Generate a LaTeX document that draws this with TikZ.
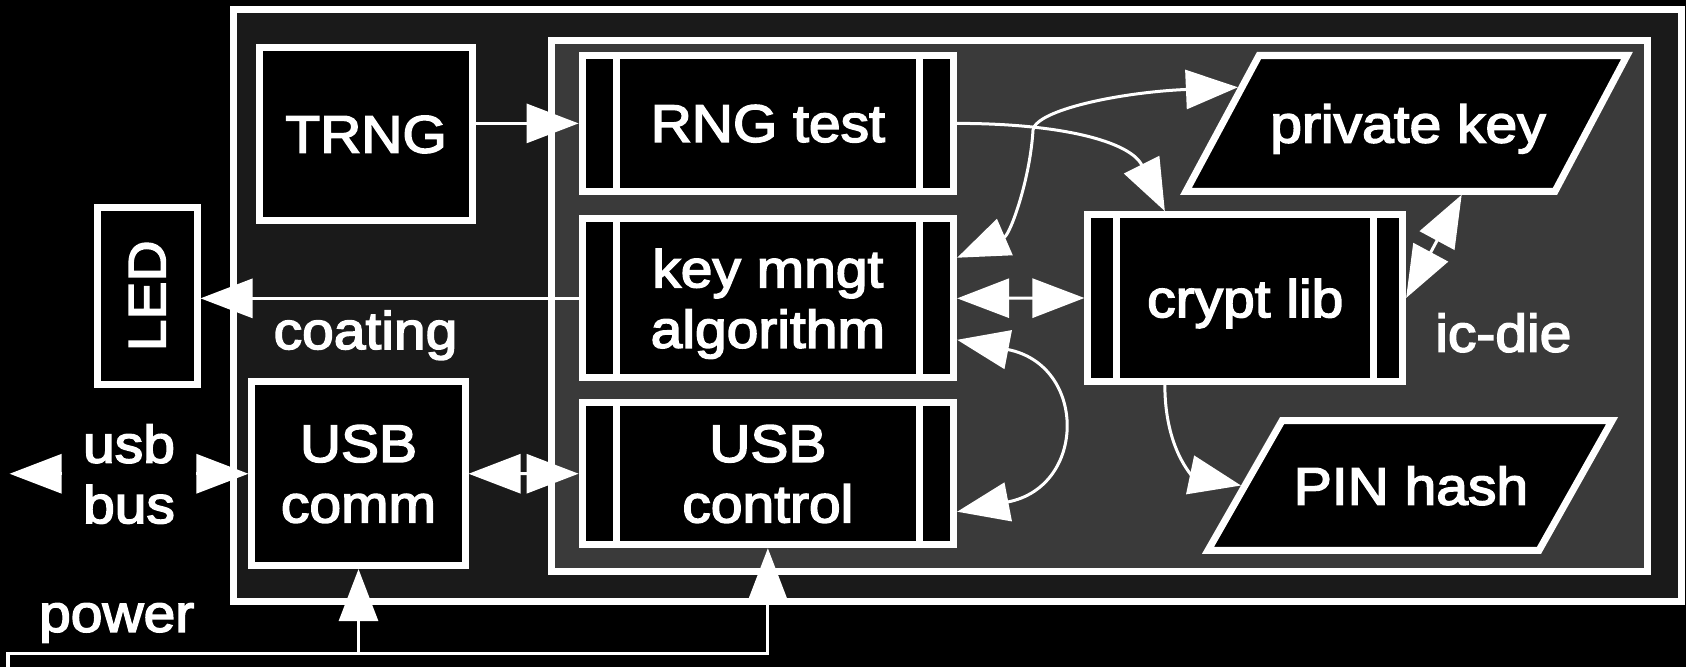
\documentclass[tikz,border=0pt]{standalone}
\usepackage{fontspec}
\usepackage{graphicx}
\setmainfont{Liberation Sans}
\newfontfamily\diagfont{Liberation Sans}[FakeBold=3, FakeStretch=1.08]
\usetikzlibrary{arrows.meta,calc}
\definecolor{coatfill}{RGB}{26,26,26}
\definecolor{diefill}{RGB}{58,58,58}
\tikzset{
  txt/.style={text=white, font=\diagfont\fontsize{15pt}{17.2pt}\selectfont},
  blk/.style={draw=white, line width=0.07cm, fill=black, inner sep=0pt,
    text depth=0pt, align=center, txt},
  frame/.style={draw=white, line width=0.07cm, inner sep=0pt},
  lbl/.style={txt, inner sep=0pt},
  conn/.style={draw=white, line width=0.03cm},
  barline/.style={draw=white, line width=0.07cm},
  onetip/.style={-{Triangle[length=0.52cm,width=0.39cm]}},
  twotips/.style={{Triangle[length=0.52cm,width=0.39cm]}-{Triangle[length=0.52cm,width=0.39cm]}},
  para/.style={draw=white, line width=0.07cm, fill=black},
}
\begin{document}
\begin{tikzpicture}[x=0.01cm, y=-0.01cm]
  \useasboundingbox (0,0) rectangle (1686,667);
  \fill[black] (0,0) rectangle (1686,667);

  % enclosures
  \node[frame, fill=coatfill, minimum width=14.475cm, minimum height=5.92cm] (coating) at (957.25,305.7) {};
  \node[frame, fill=diefill, minimum width=10.953cm, minimum height=5.305cm] (icdie) at (1099.35,306.05) {};

  % blocks
  \node[blk, minimum width=2.124cm, minimum height=1.724cm] (trng) at (366.1,134.2) {TRNG};
  \node[blk, minimum width=0.995cm, minimum height=1.765cm] (led) at (147.25,295.75) {\rotatebox{90}{LED}};
  \node[blk, minimum width=3.713cm, minimum height=1.358cm] (rngtest) at (767.85,123.4) {RNG test};
  \node[blk, minimum width=3.713cm, minimum height=1.587cm] (keymngt) at (767.85,298.35) {key mngt\\algorithm};
  \node[blk, minimum width=3.713cm, minimum height=1.42cm] (usbctrl) at (767.85,473.7) {USB\\control};
  \node[blk, minimum width=3.145cm, minimum height=1.666cm] (cryptlib) at (1245.25,298) {crypt lib};
  \node[blk, minimum width=2.13cm, minimum height=1.835cm] (usbcomm) at (358.5,473.75) {USB\\comm};

  % data stores (parallelograms)
  \coordinate (pkTL) at (1259,55.5);  \coordinate (pkTR) at (1627,55.5);
  \coordinate (pkBR) at (1555,191.3); \coordinate (pkBL) at (1186,191.3);
  \draw[para] (pkTL) -- (pkTR) -- (pkBR) -- (pkBL) -- cycle;
  \node[lbl, text depth=0pt] (pk) at (1408,123.4) {private key};
  \coordinate (pinTL) at (1282,420.7); \coordinate (pinTR) at (1612,420.7);
  \coordinate (pinBR) at (1539,550.3); \coordinate (pinBL) at (1208,550.3);
  \draw[para] (pinTL) -- (pinTR) -- (pinBR) -- (pinBL) -- cycle;
  \node[lbl, text depth=0pt] (pin) at (1411,485.5) {PIN hash};

  % inner bars of the module blocks
  \foreach \n in {rngtest,keymngt,usbctrl,cryptlib}{
    \draw[barline] ($(\n.north west)!0.1!(\n.north east)$) -- ($(\n.south west)!0.1!(\n.south east)$);
    \draw[barline] ($(\n.north west)!0.9!(\n.north east)$) -- ($(\n.south west)!0.9!(\n.south east)$);
  }

  % free labels
  \node[lbl, anchor=base] (coatlbl) at (365.5,349) {coating};
  \node[lbl, anchor=base] (dielbl) at (1503.3,351.7) {ic-die};
  \node[lbl, anchor=base] (pwrlbl) at (116.7,631.7) {power};

  % connector ends on the parallelogram outlines
  \coordinate (pkBot) at ($(pkBL)!0.747!(pkBR)+(0,3.5)$);
  \coordinate (pkLeft) at ($(pkTL)!0.234!(pkBL)+(-4,0)$);
  \coordinate (pinLeft) at ($(pinTL)!0.5!(pinBL)+(-4,0)$);

  % straight connectors
  \draw[conn, onetip] (trng.east |- rngtest.west) -- (rngtest.west);
  \draw[conn, onetip] (keymngt.west) -- (keymngt.west -| led.east);
  \coordinate (busend) at (9.6,473.75);
  \draw[conn, twotips] (busend) -- (usbcomm.west)
    node[midway, lbl, fill=black, align=center, text depth=0pt, minimum width=1.33cm] (buslbl) {usb\\bus};
  \draw[conn, twotips] (usbcomm.east) -- (usbctrl.west);
  \draw[conn, twotips] (keymngt.east) -- (cryptlib.west);
  \draw[conn, twotips] (cryptlib.east) -- (pkBot);

  % power supply
  \coordinate (pwrin) at (8,680);
  \coordinate (pwrbus) at (8,653.5);
  \draw[conn, onetip] (pwrin) -- (pwrbus) -| (usbctrl.south);
  \draw[conn, onetip] (usbcomm.south |- pwrbus) -- (usbcomm.south);

  % curved connectors
  \draw[conn, onetip] (rngtest.east) .. controls +(103,0) and +(-35,-70) ..
    ($(cryptlib.north west)!0.25!(cryptlib.north east)$);
  \coordinate (kmA) at ($(keymngt.north east)!0.255!(keymngt.south east)$);
  \coordinate (kmbend) at (1033,130);
  \draw[conn, twotips] (kmA) .. controls +(53,-23) and +(-3,50) .. (kmbend)
    .. controls +(3,-20) and +(-118,5) .. (pkLeft);
  \draw[conn, twotips] ($(keymngt.north east)!0.75!(keymngt.south east)$)
    .. controls +(130,25) and +(130,-25) .. ($(usbctrl.north east)!0.755!(usbctrl.south east)$);
  \draw[conn, onetip] ($(cryptlib.south west)!0.25!(cryptlib.south east)$)
    .. controls +(0,65) and +(-48,-10) .. (pinLeft);
\end{tikzpicture}
\end{document}
